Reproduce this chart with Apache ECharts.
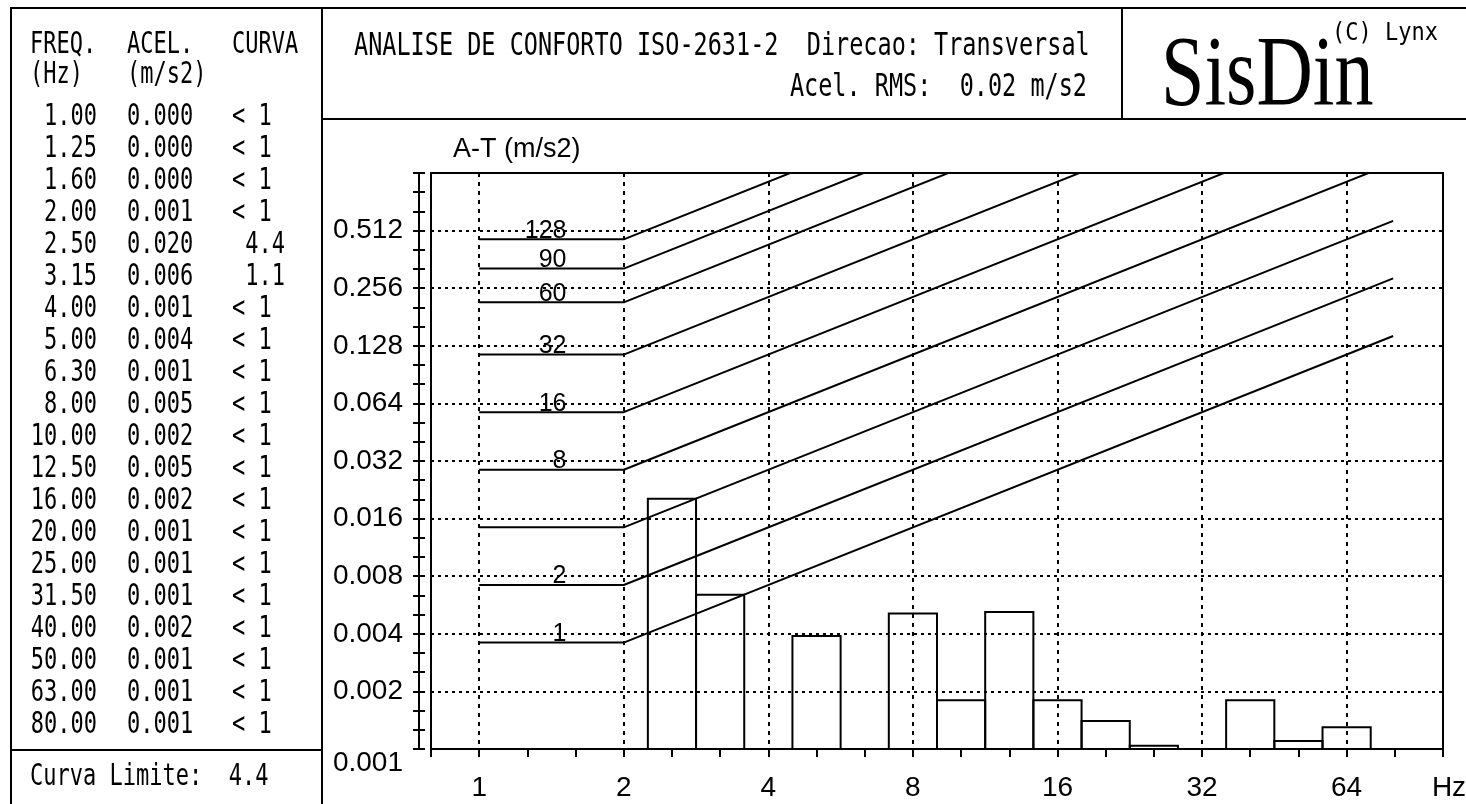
<!DOCTYPE html>
<html>
<head>
<meta charset="utf-8">
<script src="https://cdn.jsdelivr.net/npm/echarts@6/dist/echarts.min.js"></script>
<style>
  html, body { margin: 0; padding: 0; background: #fff; }
  #chart { width: 1466px; height: 804px; }
</style>
</head>
<body>
<div id="chart"></div>
<script>
// One-third-octave band centres (Hz)
const bandFreqs = [1.00, 1.25, 1.60, 2.00, 2.50, 3.15, 4.00, 5.00, 6.30, 8.00,
                   10.00, 12.50, 16.00, 20.00, 25.00, 31.50, 40.00, 50.00, 63.00, 80.00];
// RMS acceleration per band (m/s2)
const bandAccel = [0.0003, 0.0003, 0.0004, 0.0009, 0.0203, 0.0064, 0.0008, 0.0039, 0.0009, 0.0051,
                   0.0018, 0.0052, 0.0018, 0.0014, 0.00104, 0.0009, 0.0018, 0.0011, 0.0013, 0.0007];
// Comfort curve reached by each band
const bandCurve = ['< 1', '< 1', '< 1', '< 1', ' 4.4', ' 1.1', '< 1', '< 1', '< 1', '< 1',
                   '< 1', '< 1', '< 1', '< 1', '< 1', '< 1', '< 1', '< 1', '< 1', '< 1'];
const limitCurve = '4.4';
const rmsAccel = '0.02';

// ISO 2631-2 transverse base curve (m/s2) and the curve multipliers drawn
const isoFreq = [1, 2, 80];
const isoBase = [0.0036, 0.0036, 0.144];
const curveFactors = [1, 2, 4, 8, 16, 32, 60, 90, 128];
const curveLabels = ['1', '2', '', '8', '16', '32', '60', '90', '128'];
const curveLabelFreq = 1.52;

// Acceleration axis tick labels (one per octave)
const yTickLabels = ['0.001', '0.002', '0.004', '0.008', '0.016', '0.032', '0.064', '0.128', '0.256', '0.512'];

const accelMin = 0.001, accelMax = 1.024;
const freqMin = Math.pow(2, -1 / 3), freqMax = Math.pow(2, 20 / 3);

const INK = '#000';
const MONO = '"DejaVu Sans Mono", "Liberation Mono", monospace';
const SANS = '"Liberation Sans", Arial, sans-serif';
const TABLE_FONT = '22px ' + MONO;
const HEAD_FONT = '23.5px ' + MONO;
const TALL = 1.35;

function label(text, x, y, align, font, sy, sx) {
  return {
    type: 'text', x: x, y: y, scaleX: sx || 1, scaleY: sy || 1, silent: true,
    style: { text: text, font: font || TABLE_FONT, fill: INK, align: align || 'left', verticalAlign: 'middle' }
  };
}
function rule(x1, y1, x2, y2) {
  return { type: 'line', silent: true, shape: { x1: x1, y1: y1, x2: x2, y2: y2 }, style: { stroke: INK, lineWidth: 2 } };
}

// Frame, table and header
const graphics = [
  { type: 'rect', silent: true, shape: { x: 11, y: 8, width: 1480, height: 830 }, style: { fill: 'none', stroke: INK, lineWidth: 2 } },
  rule(322, 8, 322, 810),
  rule(11, 750, 322, 750),
  rule(322, 119, 1470, 119),
  rule(1122, 8, 1122, 119),
  label('FREQ.', 30, 45, 'left', null, TALL),
  label('(Hz)', 30, 75, 'left', null, TALL),
  label('ACEL.', 127, 45, 'left', null, TALL),
  label('(m/s2)', 127, 75, 'left', null, TALL),
  label('CURVA', 232, 45, 'left', null, TALL),
  label('Curva Limite:  ' + limitCurve, 30, 777, 'left', null, TALL),
  label('ANALISE DE CONFORTO ISO-2631-2  Direcao: Transversal', 354, 47, 'left', HEAD_FONT, TALL),
  label('Acel. RMS:  ' + rmsAccel + ' m/s2', 1087, 88, 'right', HEAD_FONT, TALL),
  label('SisDin', 1161, 78, 'left', '100px "Liberation Serif", "DejaVu Serif", serif', 1, 0.78),
  label('(C) Lynx', 1332, 34, 'left', TABLE_FONT, 1.1)
];
bandFreqs.forEach(function (f, i) {
  const y = 117 + 32 * i;
  graphics.push(label(f.toFixed(2), 97, y, 'right', null, TALL));
  graphics.push(label(bandAccel[i].toFixed(3), 127, y, 'left', null, TALL));
  graphics.push(label(bandCurve[i], 232, y, 'left', null, TALL));
});

// Limit curves
const curveSeries = curveFactors.map(function (k, c) {
  return {
    type: 'line', xAxisIndex: 0, yAxisIndex: 0, silent: true, animation: false, clip: true,
    symbol: 'none',
    lineStyle: { color: INK, width: 2 },
    data: isoFreq.map(function (f, j) { return [f, isoBase[j] * k]; }),
    markPoint: {
      symbol: 'circle', symbolSize: 0, animation: false,
      label: {
        show: true, position: 'insideBottomRight', distance: 0, offset: [0, 4],
        color: INK, fontFamily: SANS, fontSize: 25,
        formatter: function () { return curveLabels[c]; }
      },
      data: [{ coord: [curveLabelFreq, isoBase[0] * k] }]
    }
  };
});

// Measured spectrum as one-third-octave band outlines
const bandSeries = {
  type: 'custom', xAxisIndex: 0, yAxisIndex: 0, silent: true, animation: false, clip: true,
  data: bandFreqs.map(function (f, i) { return [f, bandAccel[i]]; }),
  renderItem: function (params, api) {
    const f = api.value(0), v = api.value(1);
    if (v <= accelMin) return null;
    const n = Math.round(3 * Math.log2(f));
    const topLeft = api.coord([Math.pow(2, (n - 0.5) / 3), v]);
    const bottomRight = api.coord([Math.pow(2, (n + 0.5) / 3), accelMin]);
    return {
      type: 'rect',
      shape: { x: topLeft[0], y: topLeft[1], width: bottomRight[0] - topLeft[0], height: bottomRight[1] - topLeft[1] },
      style: { fill: 'none', stroke: INK, lineWidth: 2 }
    };
  }
};

const axisText = { color: INK, fontFamily: SANS, fontSize: 28 };

const option = {
  backgroundColor: '#fff',
  animation: false,
  grid: {
    left: 431, top: 173, right: 23, bottom: 55,
    containLabel: false, outerBoundsMode: 'none',
    show: true, borderColor: INK, borderWidth: 2, backgroundColor: 'transparent'
  },
  xAxis: [
    {
      type: 'log', logBase: 2, min: freqMin, max: freqMax, position: 'bottom', offset: 14,
      axisLine: { show: true, lineStyle: { color: INK, width: 2 } },
      axisTick: { show: false },
      axisLabel: Object.assign({}, axisText, {
        margin: 11,
        showMinLabel: true, showMaxLabel: true, alignMaxLabel: 'center',
        rich: { unit: { fontFamily: SANS, fontSize: 28, color: INK, padding: [0, 0, 0, 12] } },
        formatter: function (v) {
          if (v > 100) return '{unit|Hz}';
          if (v < 0.9) return '';
          return String(Math.round(v));
        }
      }),
      splitLine: { show: true, showMinLine: false, showMaxLine: false, lineStyle: { color: INK, width: 2, type: [4, 5] } }
    },
    {
      // one tick per third-octave band
      type: 'value', min: -1, max: 20, interval: 1, position: 'bottom', offset: 10,
      axisLine: { show: false },
      axisTick: { show: true, length: 8, lineStyle: { color: INK, width: 2 } },
      axisLabel: { show: false },
      splitLine: { show: false }
    }
  ],
  yAxis: [
    { type: 'log', logBase: 2, min: accelMin, max: accelMax, show: false },
    {
      // one step per third of an octave above accelMin
      type: 'value', min: 0, max: 30, interval: 3, position: 'left', offset: 12,
      name: 'A-T (m/s2)', nameLocation: 'end', nameGap: 10,
      nameTextStyle: Object.assign({}, axisText, { fontSize: 27, align: 'left', padding: [0, 0, 0, 34] }),
      axisLine: { show: true, lineStyle: { color: INK, width: 2 } },
      axisTick: { show: false },
      axisLabel: Object.assign({}, axisText, {
        margin: 16,
        verticalAlignMinLabel: 'top',
        formatter: function (v) { return v % 3 === 0 && yTickLabels[v / 3] ? yTickLabels[v / 3] : ''; }
      }),
      splitLine: { show: true, showMinLine: false, showMaxLine: false, lineStyle: { color: INK, width: 2, type: [3, 4] } }
    },
    {
      type: 'value', min: 0, max: 30, interval: 1, position: 'left', offset: 6,
      axisLine: { show: false },
      axisTick: { show: true, length: 12, lineStyle: { color: INK, width: 2 } },
      axisLabel: { show: false },
      splitLine: { show: false }
    }
  ],
  graphic: graphics,
  series: [bandSeries].concat(curveSeries)
};

const chart = echarts.init(document.getElementById('chart'), null, { renderer: 'canvas', width: 1466, height: 804 });
chart.setOption(option);
</script>
</body>
</html>
